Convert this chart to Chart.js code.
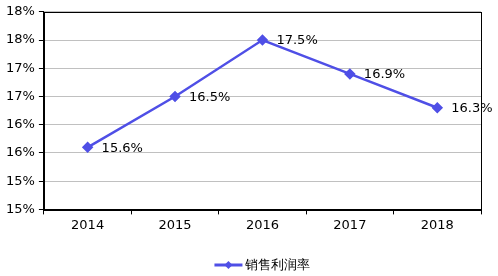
<!DOCTYPE html>
<html>
<head>
<meta charset="utf-8">
<script src="https://cdn.jsdelivr.net/npm/chart.js@4"></script>
<style>
  html, body { margin: 0; padding: 0; background: #fff; }
  #wrap { width: 498px; height: 276px; }
</style>
</head>
<body>
<div id="wrap"><canvas id="myChart" width="498" height="276"></canvas></div>
<script>
const years = ['2014', '2015', '2016', '2017', '2018'];
const margin = [15.6, 16.5, 17.5, 16.9, 16.3];
const seriesName = '销售利润率';

const lineColor = '#4f4fe6';
const font = '"DejaVu Sans", Verdana, sans-serif';

// labels next to points, frame and legend drawn here
const extras = {
  id: 'extras',
  afterDatasetsDraw(chart) {
    const ctx = chart.ctx;
    const area = chart.chartArea;
    ctx.save();
    ctx.strokeStyle = '#000';
    ctx.lineWidth = 1;
    ctx.strokeRect(Math.round(area.left) + 0.5, Math.round(area.top) + 0.5,
      Math.round(area.right - area.left), Math.round(area.bottom - area.top));

    ctx.fillStyle = '#000';
    ctx.font = '13px ' + font;
    ctx.textBaseline = 'middle';
    chart.getDatasetMeta(0).data.forEach((pt, i) => {
      ctx.fillText(margin[i].toFixed(1) + '%', pt.x + 14, pt.y + 1);
    });

    // legend
    const cx = (area.left + area.right) / 2;
    const ly = 265;
    const tw = ctx.measureText(seriesName).width;
    const total = 28 + 3 + tw;
    const x0 = cx - total / 2;
    ctx.strokeStyle = lineColor;
    ctx.lineWidth = 3;
    ctx.beginPath();
    ctx.moveTo(x0, ly);
    ctx.lineTo(x0 + 28, ly);
    ctx.stroke();
    ctx.fillStyle = lineColor;
    ctx.beginPath();
    ctx.moveTo(x0 + 14, ly - 4);
    ctx.lineTo(x0 + 18, ly);
    ctx.lineTo(x0 + 14, ly + 4);
    ctx.lineTo(x0 + 10, ly);
    ctx.closePath();
    ctx.fill();
    ctx.fillStyle = '#000';
    ctx.fillText(seriesName, x0 + 31, ly + 1);
    ctx.restore();
  }
};

const myChart = new Chart(document.getElementById('myChart'), {
  type: 'line',
  data: {
    labels: years,
    datasets: [{
      label: seriesName,
      data: margin,
      borderColor: lineColor,
      backgroundColor: lineColor,
      borderWidth: 2.5,
      pointStyle: 'rectRot',
      pointRadius: 4,
      pointHoverRadius: 4,
      tension: 0
    }]
  },
  options: {
    responsive: false,
    animation: false,
    layout: { padding: { left: 2, right: 17, top: 4, bottom: 40 } },
    plugins: {
      legend: { display: false },
      tooltip: { enabled: false }
    },
    scales: {
      x: {
        offset: true,
        grid: {
          offset: true,
          drawOnChartArea: false,
          tickLength: 5,
          tickColor: '#000'
        },
        border: { color: '#000' },
        ticks: { color: '#000', font: { family: font, size: 13 }, padding: 3 }
      },
      y: {
        min: 14.5,
        max: 18,
        grid: {
          color: '#c0c0c0',
          tickLength: 5,
          tickColor: '#000'
        },
        border: { color: '#000' },
        ticks: {
          stepSize: 0.5,
          color: '#000',
          font: { family: font, size: 13 },
          padding: 4,
          callback: v => Math.round(v) + '%'
        }
      }
    }
  },
  plugins: [extras]
});
</script>
</body>
</html>
